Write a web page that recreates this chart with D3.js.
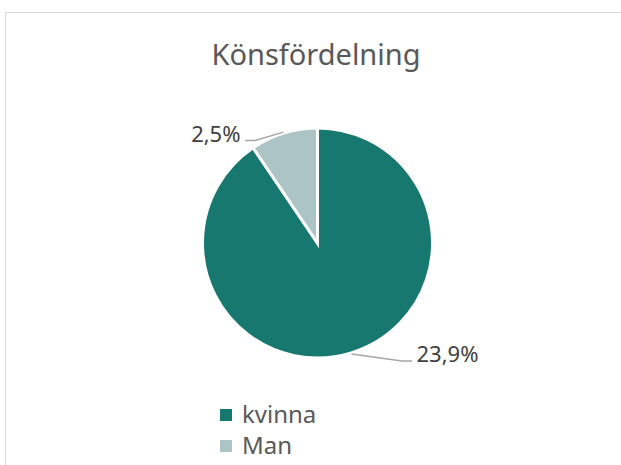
<!DOCTYPE html>
<html>
<head>
<meta charset="utf-8">
<script src="https://cdn.jsdelivr.net/npm/d3@7"></script>
<style>
  body { margin: 0; background: #fff; }
  text { font-family: "Noto Sans", Lato, sans-serif; fill: #595959; }
</style>
</head>
<body>
<div id="chart"></div>
<script>
const categories = ["kvinna", "Man"];
const values = [23.9, 2.5];
const labels = ["23,9%", "2,5%"];
const colors = ["#177870", "#adc4c7"];

const W = 621, H = 465;
const cx = 317.5, cy = 243, r = 115;

const svg = d3.select("#chart").append("svg")
  .attr("width", W).attr("height", H);

// chart border
svg.append("rect")
  .attr("x", 5.5).attr("y", 12.5)
  .attr("width", W).attr("height", H)
  .attr("fill", "none").attr("stroke", "#d9d9d9");

svg.append("text")
  .attr("x", 316).attr("y", 65)
  .attr("text-anchor", "middle")
  .attr("font-size", 29)
  .text("Könsfördelning");

const data = categories.map((c, i) => ({ cat: c, value: values[i], label: labels[i], color: colors[i] }));

const pie = d3.pie().value(d => d.value).sort(null);
const arc = d3.arc().innerRadius(0).outerRadius(r);
const arcs = pie(data);

const g = svg.append("g").attr("transform", `translate(${cx},${cy})`);

g.selectAll("path")
  .data(arcs)
  .enter()
  .append("path")
  .attr("d", arc)
  .attr("fill", d => d.data.color)
  .attr("stroke", "#fff")
  .attr("stroke-width", 3);

// leader lines and labels
const labelPos = {
  kvinna: { bend: [84.5, 118], end: [94.5, 118], anchor: "start", tx: 99, ty: 119 },
  Man: { bend: [-62.5, -102.5], end: [-72.5, -102.5], anchor: "end", tx: -77, ty: -101 }
};

arcs.forEach(a => {
  const mid = (a.startAngle + a.endAngle) / 2;
  const p0 = [Math.sin(mid) * (r + 1), -Math.cos(mid) * (r + 1)];
  const lp = labelPos[a.data.cat];
  g.append("polyline")
    .attr("points", [p0, lp.bend, lp.end].map(p => p.join(",")).join(" "))
    .attr("fill", "none")
    .attr("stroke", "#a6a6a6")
    .attr("stroke-width", 1.5);
  g.append("text")
    .attr("x", lp.tx).attr("y", lp.ty)
    .attr("text-anchor", lp.anchor)
    .attr("font-size", 22)
    .style("fill", "#404040")
    .text(a.data.label);
});

// legend
const legend = svg.append("g").attr("transform", "translate(220,409)");
const item = legend.selectAll("g")
  .data(data)
  .enter()
  .append("g")
  .attr("transform", (d, i) => `translate(0,${i * 31})`);

item.append("rect")
  .attr("width", 12).attr("height", 12)
  .attr("fill", d => d.color);

item.append("text")
  .attr("x", 22).attr("y", 14)
  .attr("font-size", 24)
  .text(d => d.cat);
</script>
</body>
</html>
